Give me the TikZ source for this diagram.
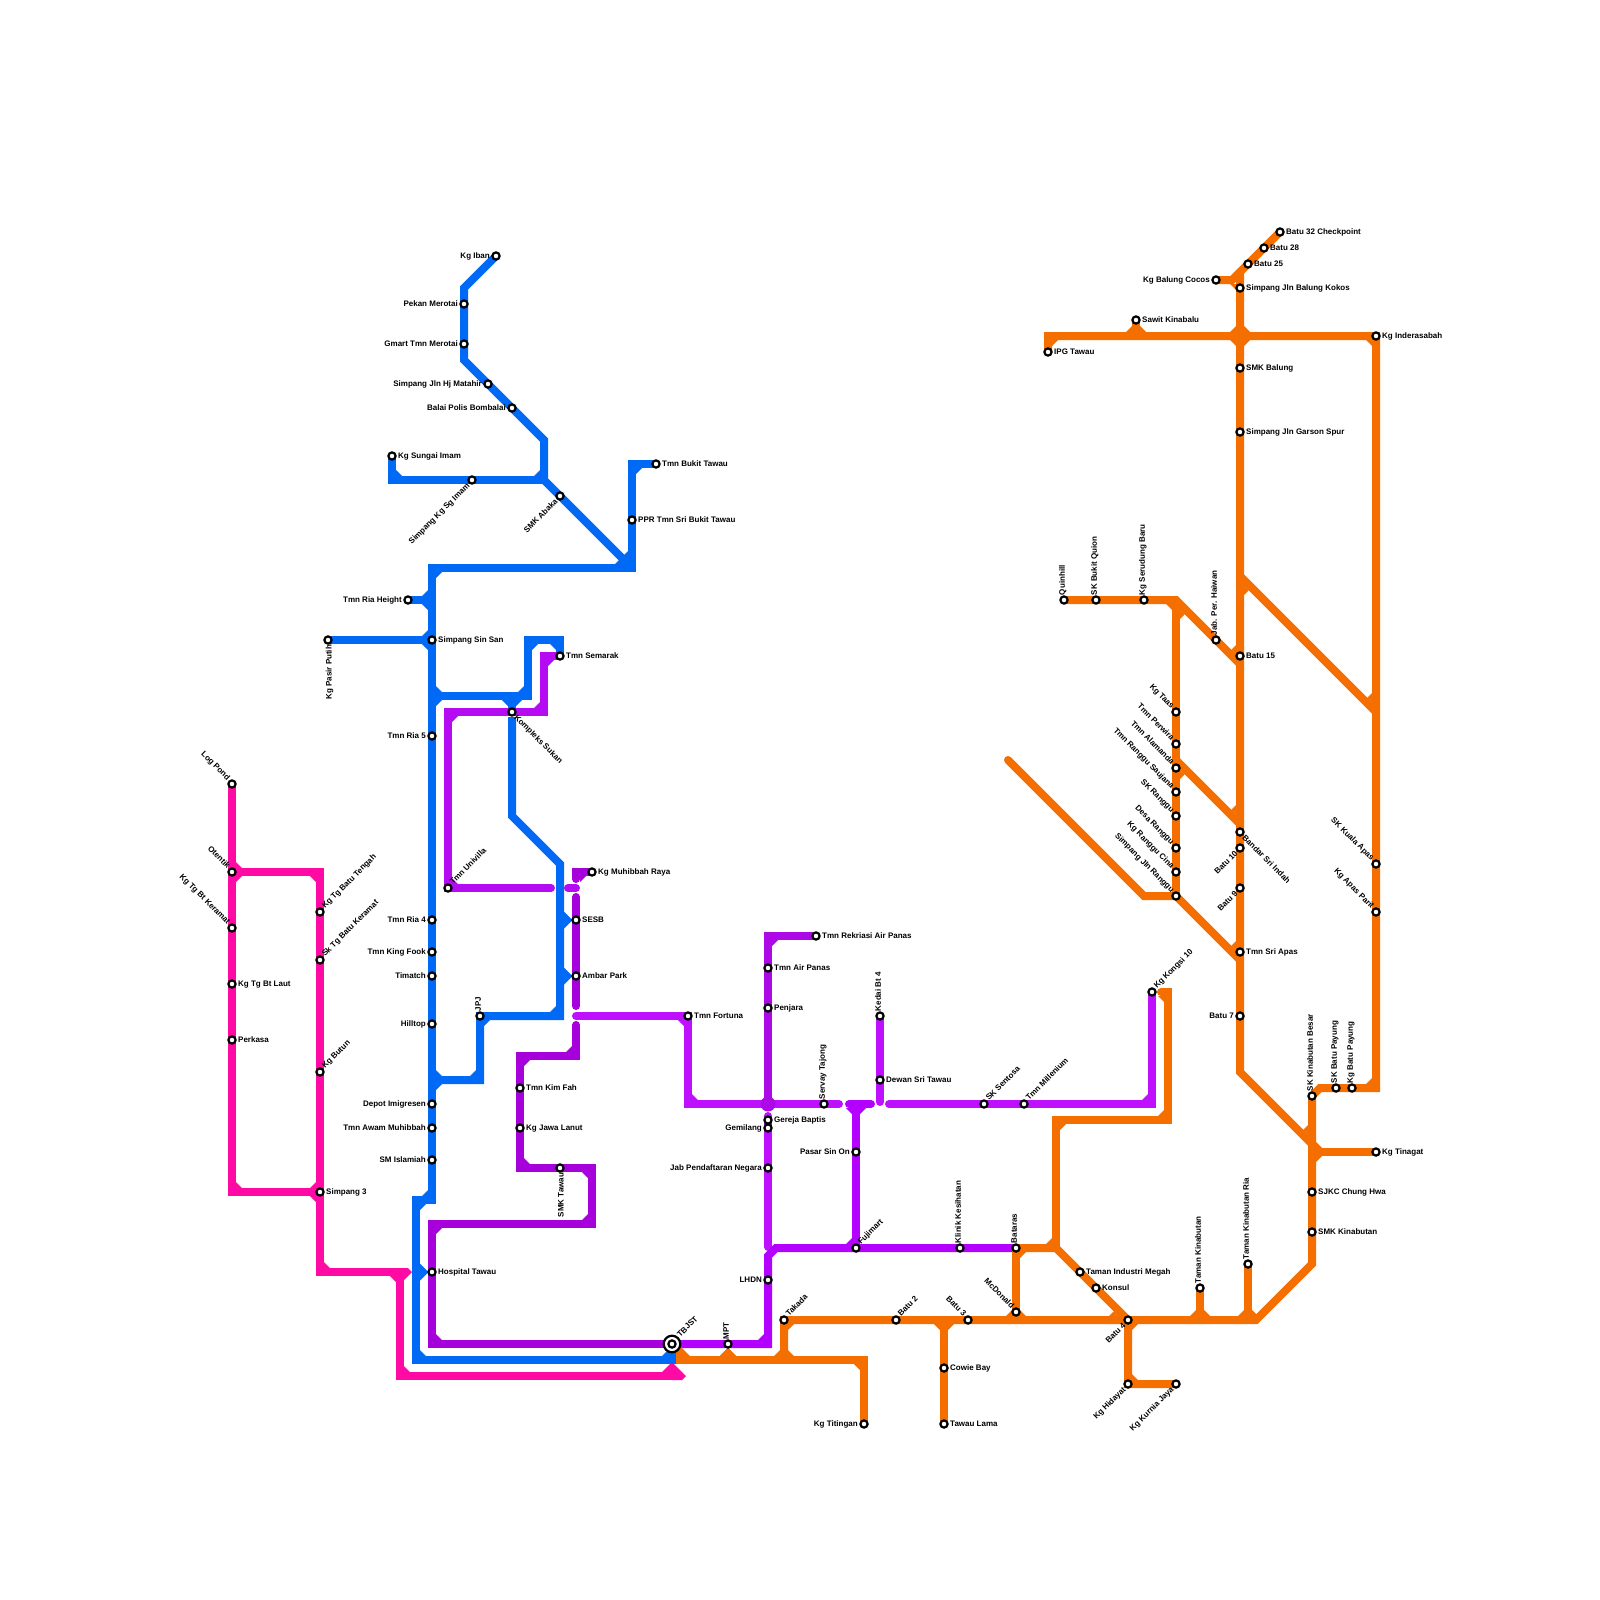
\documentclass[tikz,border=0pt]{standalone}
\usepackage{fontspec}
\setmainfont{Liberation Sans}
\usetikzlibrary{backgrounds, calc}
\definecolor{pinkln}{HTML}{FF0AA5}
\definecolor{blueln}{HTML}{0069F5}
\definecolor{orangeln}{HTML}{F56F00}
\definecolor{vio}{HTML}{B50BF2}
\definecolor{viodk}{HTML}{A600DB}
\definecolor{violt}{HTML}{BE10FF}
\definecolor{viomid}{HTML}{B400FF}
\definecolor{vioair}{HTML}{AD08E6}
\newcommand{\fillets}[2]{\foreach \x/\y/\dx/\dy in {#2}{\fill[#1] (\x+4*\dx,\y+4*\dy) -- ++(6*\dx,0) -- ++(-6*\dx,6*\dy) -- cycle;}}
\newcommand{\flareup}[2]{\foreach \x/\y in {#2}{\fill[#1] (\x-4,\y-19) -- (\x-8.7,\y-14.3) -- (\x-4,\y-9.7) -- cycle;}}
\newcommand{\flaredn}[2]{\foreach \x/\y in {#2}{\fill[#1] (\x+4,\y+19) -- (\x+8.7,\y+14.3) -- (\x+4,\y+9.7) -- cycle;}}
\begin{document}
\begin{tikzpicture}[
        x=1pt, y=-1pt,
        label distance=1.3pt,
        stn/.style={circle, draw=black, fill=white, line width=2.2pt, minimum size=7.2pt, inner sep=0pt},
        hub/.style={circle, draw=black, fill=white, line width=2.2pt, minimum size=16.6pt, inner sep=0pt},
        lab/.style={font=\fontsize{8}{8}\selectfont\bfseries, inner sep=0pt, text height=5.5pt, text depth=1pt},
        lr/.style={label={[lab, anchor=west]0:#1}},
        ll/.style={label={[lab, anchor=east]180:#1}},
        lup/.style={label={[lab, rotate=90, anchor=west]90:#1}},
        ldn/.style={label={[lab, rotate=90, anchor=east]-90:#1}},
        lne/.style={label={[lab, rotate=45, anchor=west]45:#1}},
        lsw/.style={label={[lab, rotate=45, anchor=east]225:#1}},
        lnw/.style={label={[lab, rotate=-45, anchor=east]135:#1}},
        lse/.style={label={[lab, rotate=-45, anchor=west]-45:#1}},
        ln/.style={line width=8pt, line cap=round, line join=miter}
    ]
    \useasboundingbox (0,0) rectangle (1600,1600);

    % pink line
    \node[stn, lnw={Log Pond}] (logpond) at (232,784) {};
    \node[stn, lnw={Otentik}] (otentik) at (232,872) {};
    \node[stn, lnw={Kg Tg Bt Keramat}] (kgtgbtkeramat) at (232,928) {};
    \node[stn, lr={Kg Tg Bt Laut}] (kgtgbtlaut) at (232,984) {};
    \node[stn, lr={Perkasa}] (perkasa) at (232,1040) {};
    \node[stn, lne={Kg Tg Batu Tengah}] (kgtgbatutengah) at (320,912) {};
    \node[stn, lne={Sk Tg Batu Keramat}] (sktgbatukeramat) at (320,960) {};
    \node[stn, lne={Kg Butun}] (kgbutun) at (320,1072) {};
    \node[stn, lr={Simpang 3}] (simpang3) at (320,1192) {};

    % blue line
    \node[stn, ll={Kg Iban}] (kgiban) at (496,256) {};
    \node[stn, ll={Pekan Merotai}] (pekanmerotai) at (464,304) {};
    \node[stn, ll={Gmart Tmn Merotai}] (gmart) at (464,344) {};
    \node[stn, ll={Simpang Jln Hj Matahir}] (simpangmatahir) at (488,384) {};
    \node[stn, ll={Balai Polis Bombalai}] (balaipolis) at (512,408) {};
    \node[stn, lr={Kg Sungai Imam}] (kgsungaiimam) at (392,456) {};
    \node[stn, lsw={Simpang Kg Sg Imam}] (simpangsgimam) at (472,480) {};
    \node[stn, lsw={SMK Abaka}] (smkabaka) at (560,496) {};
    \node[stn, lr={Tmn Bukit Tawau}] (tmnbukittawau) at (656,464) {};
    \node[stn, lr={PPR Tmn Sri Bukit Tawau}] (pprtmn) at (632,520) {};
    \node[stn, ll={Tmn Ria Height}] (tmnriaheight) at (408,600) {};
    \node[stn, ldn={Kg Pasir Putih}] (kgpasirputih) at (328,640) {};
    \node[stn, lr={Simpang Sin San}] (simpangsinsan) at (432,640) {};
    \node[stn, ll={Tmn Ria 5}] (tmnria5) at (432,736) {};
    \node[stn, ll={Tmn Ria 4}] (tmnria4) at (432,920) {};
    \node[stn, ll={Tmn King Fook}] (tmnkingfook) at (432,952) {};
    \node[stn, ll={Timatch}] (timatch) at (432,976) {};
    \node[stn, ll={Hilltop}] (hilltop) at (432,1024) {};
    \node[stn, ll={Depot Imigresen}] (depotimigresen) at (432,1104) {};
    \node[stn, ll={Tmn Awam Muhibbah}] (tmnawam) at (432,1128) {};
    \node[stn, ll={SM Islamiah}] (smislamiah) at (432,1160) {};
    \node[stn, lup={JPJ}] (jpj) at (480,1016) {};

    % purple lines
    \node[stn, lr={Tmn Semarak}] (tmnsemarak) at (560,656) {};
    \node[stn, lse={Kompleks Sukan}] (kompleks) at (512,712) {};
    \node[stn, lne={Tmn Univilla}] (tmnunivilla) at (448,888) {};
    \node[stn, lr={Kg Muhibbah Raya}] (kgmuhibbah) at (592,872) {};
    \node[stn, lr={SESB}] (sesb) at (576,920) {};
    \node[stn, lr={Ambar Park}] (ambarpark) at (576,976) {};
    \node[stn, lr={Tmn Kim Fah}] (tmnkimfah) at (520,1088) {};
    \node[stn, lr={Kg Jawa Lanut}] (kgjawalanut) at (520,1128) {};
    \node[stn, ldn={SMK Tawau}] (smktawau) at (560,1168) {};
    \node[stn, lr={Hospital Tawau}] (hospital) at (432,1272) {};
    \node[stn, lr={Tmn Fortuna}] (tmnfortuna) at (688,1016) {};
    \node[stn, lr={Tmn Rekriasi Air Panas}] (tmnrekriasi) at (816,936) {};
    \node[stn, lr={Tmn Air Panas}] (tmnairpanas) at (768,968) {};
    \node[stn, lr={Penjara}] (penjara) at (768,1008) {};
    \node[stn, lr={Gereja Baptis}] (gerejabaptis) at (768,1120) {};
    \node[stn, ll={Gemilang}] (gemilang) at (768,1128) {};
    \node[stn, ll={Jab Pendaftaran Negara}] (jabpendaftaran) at (768,1168) {};
    \node[stn, ll={LHDN}] (lhdn) at (768,1280) {};
    \node[stn, lup={Servay Tajong}] (servay) at (824,1104) {};
    \node[stn, ll={Pasar Sin On}] (pasarsinon) at (856,1152) {};
    \node[stn, lne={Fujimart}] (fujimart) at (856,1248) {};
    \node[stn, lup={Kedai Bt 4}] (kedaibt4) at (880,1016) {};
    \node[stn, lr={Dewan Sri Tawau}] (dewansritawau) at (880,1080) {};
    \node[stn, lup={Klinik Kesihatan}] (klinik) at (960,1248) {};
    \node[stn, lne={SK Sentosa}] (sksentosa) at (984,1104) {};
    \node[stn, lne={Tmn Millenium}] (tmnmillenium) at (1024,1104) {};
    \node[stn, lne={Kg Kongsi 10}] (kgkongsi10) at (1152,992) {};
    \node[stn, lup={MPT}] (mpt) at (728,1344) {};
    \node[hub, lne={TBJST}] (tbjstring) at (672,1344) {};
    \node[stn] (tbjst) at (672,1344) {};

    % orange line
    \node[stn, lup={Bataras}] (bataras) at (1016,1248) {};
    \node[stn, lnw={McDonald}] (mcdonald) at (1016,1312) {};
    \node[stn, lne={Takada}] (takada) at (784,1320) {};
    \node[stn, lne={Batu 2}] (batu2) at (896,1320) {};
    \node[stn, lnw={Batu 3}] (batu3) at (968,1320) {};
    \node[stn, lr={Cowie Bay}] (cowiebay) at (944,1368) {};
    \node[stn, lr={Tawau Lama}] (tawaulama) at (944,1424) {};
    \node[stn, ll={Kg Titingan}] (kgtitingan) at (864,1424) {};
    \node[stn, lr={Taman Industri Megah}] (tamanindustri) at (1080,1272) {};
    \node[stn, lr={Konsul}] (konsul) at (1096,1288) {};
    \node[stn, lsw={Batu 4}] (batu4) at (1128,1320) {};
    \node[stn, lsw={Kg Hidayat}] (kghidayat) at (1128,1384) {};
    \node[stn, lsw={Kg Kurnia Jaya}] (kgkurnia) at (1176,1384) {};
    \node[stn, lup={Taman Kinabutan}] (tamankinabutan) at (1200,1288) {};
    \node[stn, lup={Taman Kinabutan Ria}] (tamanria) at (1248,1264) {};
    \node[stn, lr={SMK Kinabutan}] (smkkinabutan) at (1312,1232) {};
    \node[stn, lr={SJKC Chung Hwa}] (sjkc) at (1312,1192) {};
    \node[stn, lr={Kg Tinagat}] (kgtinagat) at (1376,1152) {};
    \node[stn, lup={SK Kinabutan Besar}] (skkinabutan) at (1312,1096) {};
    \node[stn, lup={SK Batu Payung}] (skbatupayung) at (1336,1088) {};
    \node[stn, lup={Kg Batu Payung}] (kgbatupayung) at (1352,1088) {};
    \node[stn, ll={Batu 7}] (batu7) at (1240,1016) {};
    \node[stn, lr={Tmn Sri Apas}] (tmnsriapas) at (1240,952) {};
    \node[stn, lsw={Batu 9}] (batu9) at (1240,888) {};
    \node[stn, lsw={Batu 10}] (batu10) at (1240,848) {};
    \node[stn, lse={Bandar Sri Indah}] (bandarsriindah) at (1240,832) {};
    \node[stn, lr={Batu 15}] (batu15) at (1240,656) {};
    \node[stn, lnw={SK Kuala Apas}] (skkualaapas) at (1376,864) {};
    \node[stn, lnw={Kg Apas Parit}] (kgapasparit) at (1376,912) {};
    \node[stn, lnw={Kg Taas}] (kgtaas) at (1176,712) {};
    \node[stn, lnw={Tmn Perwira}] (tmnperwira) at (1176,744) {};
    \node[stn, lnw={Tmn Alamanda}] (tmnalamanda) at (1176,768) {};
    \node[stn, lnw={Tmn Ranggu Saujana}] (tmnranggu) at (1176,792) {};
    \node[stn, lnw={SK Ranggu}] (skranggu) at (1176,816) {};
    \node[stn, lnw={Desa Ranggu}] (desaranggu) at (1176,848) {};
    \node[stn, lnw={Kg Ranggu Cina}] (kgranggucina) at (1176,872) {};
    \node[stn, lnw={Simpang Jln Ranggu}] (simpangranggu) at (1176,896) {};
    \node[stn, lup={Jab. Per. Haiwan}] (jabper) at (1216,640) {};
    \node[stn, lup={Quinhill}] (quinhill) at (1064,600) {};
    \node[stn, lup={SK Bukit Quion}] (skbukitquion) at (1096,600) {};
    \node[stn, lup={Kg Serudung Baru}] (kgserudung) at (1144,600) {};
    \node[stn, lr={Simpang Jln Garson Spur}] (simpanggarson) at (1240,432) {};
    \node[stn, lr={SMK Balung}] (smkbalung) at (1240,368) {};
    \node[stn, lr={Kg Inderasabah}] (kginderasabah) at (1376,336) {};
    \node[stn, lr={IPG Tawau}] (ipgtawau) at (1048,352) {};
    \node[stn, lr={Sawit Kinabalu}] (sawitkinabalu) at (1136,320) {};
    \node[stn, ll={Kg Balung Cocos}] (kgbalung) at (1216,280) {};
    \node[stn, lr={Simpang Jln Balung Kokos}] (simpangbalung) at (1240,288) {};
    \node[stn, lr={Batu 25}] (batu25) at (1248,264) {};
    \node[stn, lr={Batu 28}] (batu28) at (1264,248) {};
    \node[stn, lr={Batu 32 Checkpoint}] (batu32) at (1280,232) {};

    \begin{scope}[on background layer]
    % pink
    \draw[ln, pinkln] (logpond.center) -- (232,1192) -- (simpang3.center);
    \draw[ln, pinkln, line cap=butt] (otentik.center) -- (320,872) -- (320,1272) -- (408,1272);
    \draw[ln, pinkln, line cap=butt] (400,1272) -- (400,1376) -- (672,1376);
    \fill[pinkln] (408,1268) -- (412,1272) -- (404,1280) -- (404,1276) -- cycle;
    \fill[pinkln] (672,1362) -- (686,1376) -- (682,1380) -- (672,1380) -- (672,1372) -- (662,1372) -- cycle;
    \fillets{pinkln}{232/872/1/-1, 232/872/1/1, 320/872/-1/1, 232/1192/1/-1, 320/1192/-1/-1, 320/1192/-1/1, 320/1272/1/-1, 400/1272/-1/1, 400/1376/1/-1}

    % blue
    \draw[ln, blueln, line cap=butt] (kgiban.center) -- (464,288) -- (464,360) -- (544,440) -- (544,480) -- (632,568);
    \draw[ln, blueln] (tmnbukittawau.center) -- (632,464) -- (632,568) -- (432,568) -- (432,1200) -- (416,1200) -- (416,1360) -- (672,1360) -- (tbjst.center);
    \draw[ln, blueln] (kgsungaiimam.center) -- (392,480) -- (544,480);
    \draw[ln, blueln] (tmnriaheight.center) -- (432,600);
    \draw[ln, blueln] (kgpasirputih.center) -- (simpangsinsan.center);
    \draw[ln, blueln] (432,696) -- (528,696) -- (528,640) -- (560,640) -- (tmnsemarak.center);
    \draw[ln, blueln] (512,696) -- (kompleks.center);
    \draw[ln, blueln, line cap=butt] (512,717) -- (512,816) -- (560,864) -- (560,1016) -- (jpj.center) -- (480,1080) -- (432,1080);
    \fill[blueln] (615,564) -- (628,551) -- (628,564) -- cycle;
    \foreach \s in {sesb, ambarpark, hospital}{\fill[blueln] ($(\s)+(-3.5,0)$) -- ++(-8.5,-8.5) -- ++(0,17) -- cycle;}
    \fillets{blueln}{392/480/1/-1, 544/480/-1/-1, 632/464/1/1, 432/568/1/1, 432/600/-1/-1, 432/600/-1/1, 432/640/-1/-1, 432/640/-1/1, 432/696/1/-1, 432/696/1/1, 528/696/-1/-1, 528/640/1/1, 560/640/-1/1, 512/696/-1/1, 512/696/1/1, 560/1016/-1/-1, 480/1016/1/1, 480/1080/-1/-1, 432/1080/1/-1, 432/1080/1/1, 432/1200/-1/-1, 416/1200/1/1, 416/1360/1/-1, 672/1360/-1/-1}

    % purple
    \draw[ln, vio] (tmnsemarak.center) -- (544,656) -- (544,712) -- (448,712) -- (tmnunivilla.center) -- (551,888);
    \draw[ln, vio] (568,888) -- (576,888);
    \fillets{vio}{544/656/1/1, 544/712/-1/-1, 448/712/1/1, 448/888/1/-1}
    \draw[ln, viodk] (kgmuhibbah.center) -- (576,872) -- (576,879);
    \draw[ln, viodk] (576,897) -- (576,1006);
    \draw[ln, viodk] (576,1025) -- (576,1056) -- (520,1056) -- (520,1168) -- (592,1168) -- (592,1224) -- (432,1224) -- (432,1344) -- (tbjst.center);
    \fillets{viodk}{576/872/1/1, 576/1056/-1/-1, 520/1056/1/1, 520/1168/1/-1, 592/1168/-1/1, 592/1224/-1/-1, 432/1224/1/1, 432/1344/1/-1}
    \draw[ln, violt] (576,1016) -- (tmnfortuna.center) -- (688,1104) -- (839,1104);
    \draw[ln, violt] (768,1116) -- (768,1247);
    \draw[ln, violt] (kedaibt4.center) -- (880,1102);
    \draw[ln, violt] (889,1104) -- (1152,1104) -- (kgkongsi10.center);
    \fillets{violt}{688/1016/-1/1, 688/1104/1/-1, 1152/1104/-1/-1}
    \draw[ln, vioair] (tmnrekriasi.center) -- (768,936) -- (768,1104);
    \fillets{vioair}{768/936/1/1}
    \fill[vioair] (768,1104) circle (7.5pt);
    \draw[ln, viomid] (849,1104) -- (871,1104);
    \draw[ln, viomid] (856,1104) -- (fujimart.center);
    \draw[ln, viomid] (bataras.center) -- (776,1248) -- (768,1256) -- (768,1344) -- (tbjst.center);
    \fillets{viomid}{856/1104/-1/1, 856/1104/1/1, 856/1248/-1/-1, 768/1344/-1/-1}

    % orange
    \draw[ln, orangeln] (batu32.center) -- (1232,280) -- (kgbalung.center);
    \draw[ln, orangeln] (1240,272) -- (1240,1072) -- (1312,1144);
    \draw[ln, orangeln] (ipgtawau.center) -- (1048,336) -- (1376,336) -- (1376,1088) -- (1320,1088) -- (skkinabutan.center) -- (1312,1264) -- (1256,1320) -- (takada.center) -- (784,1360);
    \draw[ln, orangeln] (1312,1152) -- (kgtinagat.center);
    \draw[ln, orangeln] (sawitkinabalu.center) -- (1136,336);
    \draw[ln, orangeln] (quinhill.center) -- (1176,600) -- (1240,664);
    \draw[ln, orangeln] (1176,600) -- (simpangranggu.center);
    \draw[ln, orangeln] (1008,760) -- (1144,896) -- (1176,896) -- (1240,960);
    \draw[ln, orangeln] (1176,760) -- (1240,824);
    \draw[ln, orangeln] (1240,576) -- (1376,712);
    \draw[ln, orangeln] (bataras.center) -- (1056,1248) -- (batu4.center) -- (kghidayat.center) -- (kgkurnia.center);
    \draw[ln, orangeln] (1056,1248) -- (1056,1120) -- (1168,1120) -- (1168,992) -- (1161,992);
    \draw[ln, orangeln] (bataras.center) -- (1016,1320);
    \draw[ln, orangeln] (tamankinabutan.center) -- (1200,1320);
    \draw[ln, orangeln] (tamanria.center) -- (1248,1320);
    \draw[ln, orangeln] (944,1320) -- (tawaulama.center);
    \draw[ln, orangeln, line cap=butt] (676,1360) -- (864,1360) -- (kgtitingan.center);
    \fill[orangeln] (676,1342) -- (690,1356) -- (676,1356) -- cycle;
    \fill[orangeln] (719,1356.5) -- (728,1347.5) -- (737,1356.5) -- cycle;
    \fill[orangeln] (1109,1316) -- (1113.7,1311.3) -- (1118.3,1316) -- cycle;
    \flareup{orangeln}{1240/664, 1240/824, 1240/960, 1312/1144, 1376/712}
    \flaredn{orangeln}{1240/576, 1176/600, 1176/760}
    \fillets{orangeln}{1240/280/-1/1, 1048/336/1/1, 1136/336/-1/-1, 1136/336/1/-1, 1240/336/-1/-1, 1240/336/1/-1, 1240/336/-1/1, 1240/336/1/1, 1376/336/-1/1, 1176/600/-1/1, 1056/1120/1/1, 1168/1120/-1/-1, 1168/992/-1/1, 1056/1248/-1/-1, 1016/1248/1/1, 1016/1320/-1/-1, 1016/1320/1/-1, 944/1320/-1/1, 944/1320/1/1, 1128/1320/1/1, 1128/1384/1/-1, 1200/1320/-1/-1, 1200/1320/1/-1, 1248/1320/-1/-1, 1248/1320/1/-1, 1312/1152/1/-1, 1312/1152/1/1, 1376/1088/-1/-1, 784/1320/1/1, 784/1360/-1/-1, 784/1360/1/-1, 864/1360/-1/1}
    \end{scope}
\end{tikzpicture}
\end{document}
